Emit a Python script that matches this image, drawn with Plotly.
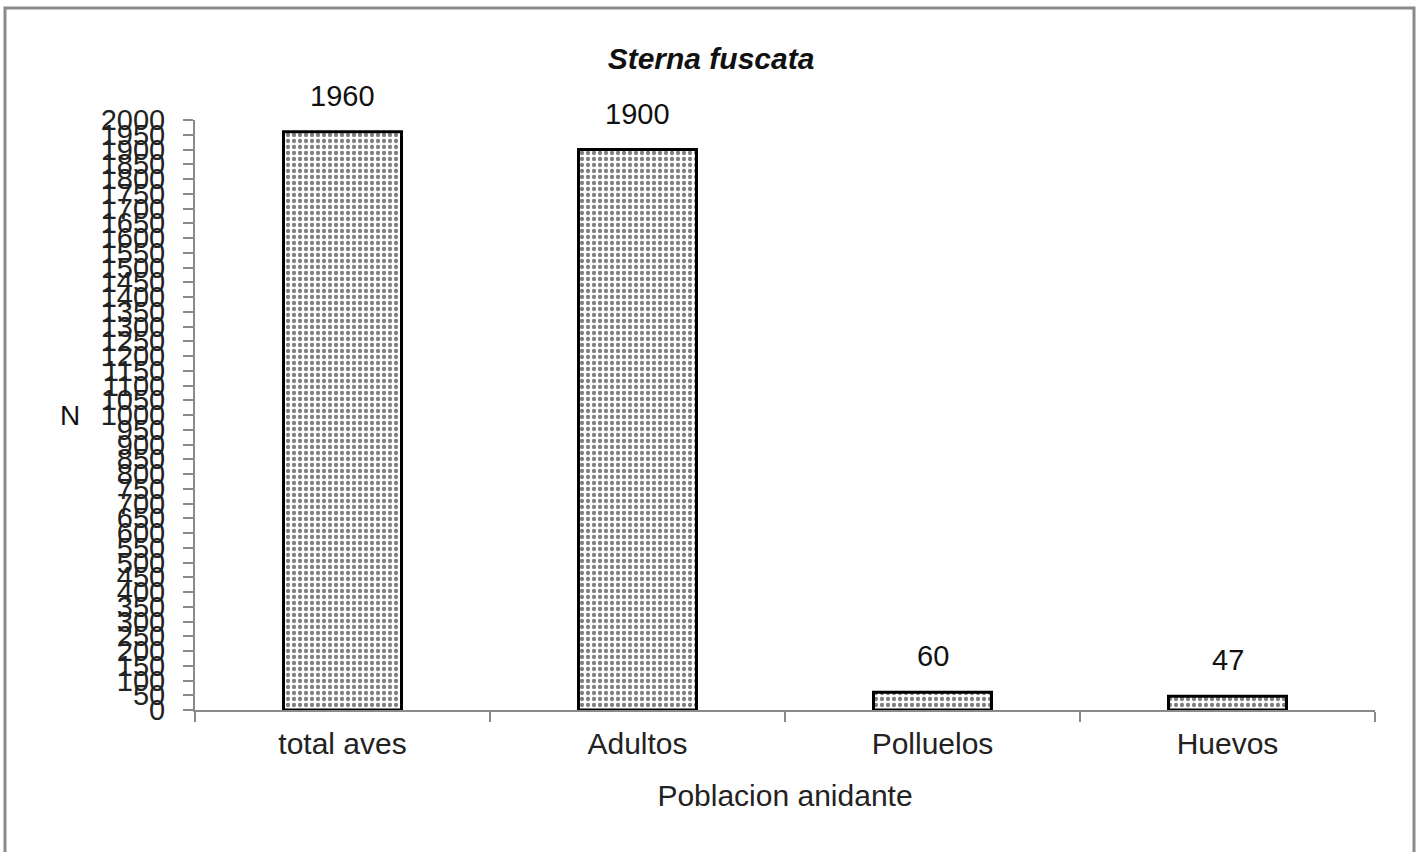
import plotly.graph_objects as go

# Nesting population of Sterna fuscata by group
categorias = ["total aves", "Adultos", "Polluelos", "Huevos"]
valores = [1960, 1900, 60, 47]
y_ticks = list(range(0, 2001, 50))

W, H = 1422, 852
L, R, T, B = 195, 47, 120, 142
pw, ph = W - L - R, H - T - B

FONT = "Liberation Sans, Arial, sans-serif"


def px_to_paper_x(px):
    return (px - L) / pw


def px_to_paper_y(py):
    return (H - B - py) / ph


fig = go.Figure()
fig.add_trace(go.Bar(
    x=categorias,
    y=valores,
    width=0.4,
    marker=dict(
        color="white",
        line=dict(color="black", width=3),
        pattern=dict(shape=".", fgcolor="black", bgcolor="white",
                     size=6, solidity=0.4, fillmode="overlay"),
    ),
    showlegend=False,
    hoverinfo="skip",
))

# value labels above each bar
for c, v in zip(categorias, valores):
    fig.add_annotation(x=c, y=v, text=str(v), showarrow=False,
                       yanchor="bottom", yshift=18,
                       font=dict(family=FONT, size=29, color="#111"))

# y-axis name, horizontal
fig.add_annotation(xref="paper", yref="paper", x=px_to_paper_x(70), y=0.5,
                   text="N", showarrow=False, xanchor="center", yanchor="middle",
                   font=dict(family=FONT, size=28, color="#111"))

# outer frame
fig.add_shape(type="rect", xref="paper", yref="paper",
              x0=px_to_paper_x(5), x1=px_to_paper_x(1414),
              y0=px_to_paper_y(870), y1=px_to_paper_y(8),
              line=dict(color="#8a8a8a", width=3), fillcolor="rgba(0,0,0,0)",
              layer="below")

fig.update_layout(
    width=W, height=H,
    margin=dict(l=L, r=R, t=T, b=B),
    paper_bgcolor="white", plot_bgcolor="white",
    title=dict(text="<b><i>Sterna fuscata</i></b>", x=0.5, xref="container",
               y=1 - 58 / H, yanchor="middle",
               font=dict(family=FONT, size=30, color="#111")),
    xaxis=dict(
        type="category",
        tickson="boundaries",
        ticks="outside", ticklen=10, tickwidth=2, tickcolor="#8a8a8a",
        showline=True, linecolor="#8a8a8a", linewidth=2,
        showgrid=False,
        ticklabelstandoff=6,
        tickfont=dict(family=FONT, size=30, color="#222"),
        title=dict(text="Poblacion anidante", standoff=26,
                   font=dict(family=FONT, size=30, color="#222")),
    ),
    yaxis=dict(
        range=[0, 2000],
        tickmode="array", tickvals=y_ticks, ticktext=[str(t) for t in y_ticks],
        ticks="outside", ticklen=10, tickwidth=2, tickcolor="#8a8a8a",
        showline=True, linecolor="#8a8a8a", linewidth=2,
        showgrid=False, zeroline=False,
        ticklabelstandoff=12,
        tickfont=dict(family=FONT, size=29, color="#222"),
    ),
)

fig.write_html("out.html")
